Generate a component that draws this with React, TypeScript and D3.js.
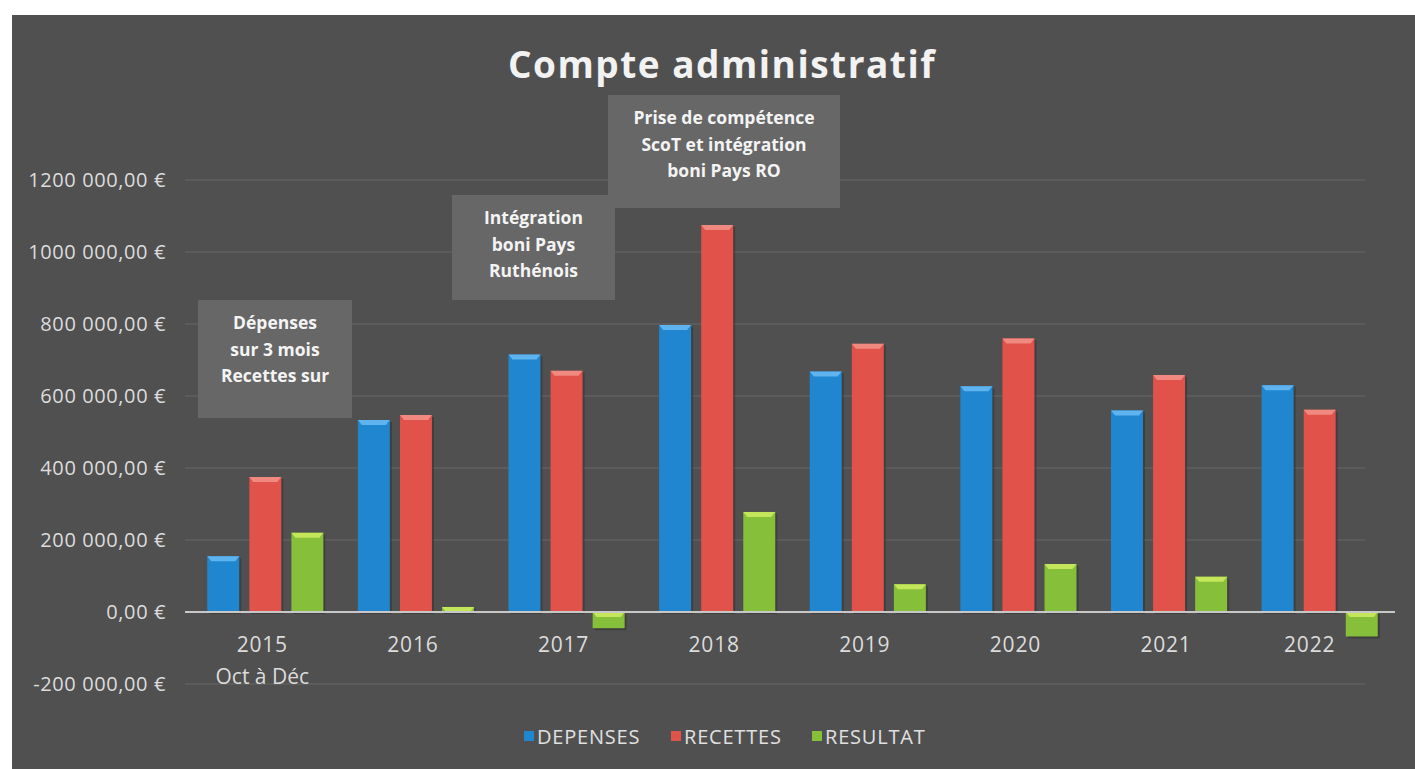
import * as React from 'react'
import * as d3 from 'd3'

const WIDTH = 1415
const HEIGHT = 769
const PLOT_LEFT = 190
const PLOT_RIGHT = 1395
const PLOT_TOP = 180
const PLOT_BOTTOM = 684

const YEARS = ['2015', '2016', '2017', '2018', '2019', '2020', '2021', '2022']
const YEAR_SUBLABELS = ['Oct à Déc', '', '', '', '', '', '', '']
const SERIES = ['DEPENSES', 'RECETTES', 'RESULTAT']
const DEPENSES = [155000, 533000, 715000, 797000, 668000, 627000, 560000, 630000]
const RECETTES = [375000, 547000, 670000, 1075000, 745000, 760000, 658000, 562000]
const RESULTAT = [220000, 14000, -45000, 278000, 77000, 133000, 98000, -68000]
const Y_TICKS = [-200000, 0, 200000, 400000, 600000, 800000, 1000000, 1200000]

// annotation boxes: text lines + year they refer to
const NOTES = [
  { lines: ['Dépenses', 'sur 3 mois', 'Recettes sur'], year: '2015' },
  { lines: ['Intégration', 'boni Pays', 'Ruthénois'], year: '2017' },
  { lines: ['Prise de compétence', 'ScoT et intégration', 'boni Pays RO'], year: '2018' }
]

const COLORS = ['#1f86cf', '#e0524a', '#86bf3a']
const HIGHLIGHTS = ['#5fb4ef', '#f08a80', '#c4e65a']
const FONT = '"Open Sans", "DejaVu Sans", sans-serif'

function formatEuro(v: number): string {
  // "1200 000,00 €" style, as in the original sheet
  const sign = v < 0 ? '-' : ''
  const abs = Math.abs(v)
  const thousands = Math.floor(abs / 1000)
  const rest = abs % 1000
  const head = thousands > 0 ? `${thousands} ${String(rest).padStart(3, '0')}` : `${rest}`
  return `${sign}${head},00 €`
}

export default function App() {
  const values = [DEPENSES, RECETTES, RESULTAT]

  const x = d3.scaleBand<string>().domain(YEARS).range([PLOT_LEFT, PLOT_RIGHT]).padding(0)
  const xInner = d3
    .scaleBand<string>()
    .domain(SERIES)
    .range([0, x.bandwidth()])
    .paddingInner(0.24)
    .paddingOuter(0.41)
  const y = d3.scaleLinear().domain([-200000, 1200000]).range([PLOT_BOTTOM, PLOT_TOP])

  // note box placement
  const noteBoxes = [
    { x0: 198, x1: 352, y0: 300, y1: 418 },
    { x0: 452, x1: 615, y0: 195, y1: 300 },
    { x0: 608, x1: 840, y0: 95, y1: 208 }
  ]

  return (
    <svg
      width={WIDTH}
      height={HEIGHT}
      style={{ position: 'absolute', left: 0, top: 0, fontFamily: FONT }}
    >
      <rect x={0} y={0} width={WIDTH} height={HEIGHT} fill="#ffffff" />
      <rect x={12} y={15} width={WIDTH - 12} height={HEIGHT - 15} fill="#505050" />

      <text
        x={722}
        y={78}
        textAnchor="middle"
        fill="#f2f2f2"
        fontSize={37}
        fontWeight="bold"
        letterSpacing={1.5}
      >
        Compte administratif
      </text>

      {/* grid */}
      {Y_TICKS.map(t => (
        <line
          key={t}
          x1={PLOT_LEFT - 5}
          x2={PLOT_RIGHT - 30}
          y1={y(t)}
          y2={y(t)}
          stroke="#666666"
          strokeWidth={1.2}
        />
      ))}
      {Y_TICKS.map(t => (
        <text
          key={'l' + t}
          x={166}
          y={y(t)}
          dy="0.35em"
          textAnchor="end"
          fill="#dcdcdc"
          fontSize={20}
          letterSpacing={0.6}
        >
          {formatEuro(t)}
        </text>
      ))}

      {/* bars */}
      {YEARS.map((yr, i) => (
        <g key={yr} transform={`translate(${x(yr)},0)`}>
          {SERIES.map((s, k) => {
            const v = values[k][i]
            const top = Math.min(y(v), y(0))
            const h = Math.max(Math.abs(y(v) - y(0)), 1.5)
            const bx = xInner(s) as number
            const bw = xInner.bandwidth()
            return (
              <g key={s}>
                <rect x={bx + 2} y={top + 2} width={bw} height={h} fill="#2e2e2e" opacity={0.5} />
                <rect x={bx} y={top} width={bw} height={h} fill={COLORS[k]} />
                <polygon
                  points={`${bx},${top} ${bx + bw},${top} ${bx + bw - 4},${top + Math.min(5, h)} ${bx + 4},${top + Math.min(5, h)}`}
                  fill={HIGHLIGHTS[k]}
                />
              </g>
            )
          })}
        </g>
      ))}

      {/* zero line */}
      <line x1={PLOT_LEFT - 5} x2={PLOT_RIGHT} y1={y(0)} y2={y(0)} stroke="#c8c8c8" strokeWidth={2} />

      {/* x labels */}
      {YEARS.map((yr, i) => (
        <g key={'x' + yr}>
          <text
            x={(x(yr) as number) + x.bandwidth() / 2 - (i === YEARS.length - 1 ? 10 : 3)}
            y={652}
            textAnchor="middle"
            fill="#dcdcdc"
            fontSize={21}
            letterSpacing={0.8}
          >
            {yr}
          </text>
          {YEAR_SUBLABELS[i] && (
            <text
              x={(x(yr) as number) + x.bandwidth() / 2 - 3}
              y={684}
              textAnchor="middle"
              fill="#dcdcdc"
              fontSize={21}
            >
              {YEAR_SUBLABELS[i]}
            </text>
          )}
        </g>
      ))}

      {/* notes */}
      {NOTES.map((n, i) => {
        const b = noteBoxes[i]
        const cx = (b.x0 + b.x1) / 2
        return (
          <g key={n.year}>
            <rect x={b.x0} y={b.y0} width={b.x1 - b.x0} height={b.y1 - b.y0} fill="#676767" />
            {n.lines.map((ln, j) => (
              <text
                key={j}
                x={cx}
                y={b.y0 + 29 + j * 26.5}
                textAnchor="middle"
                fill="#f4f4f4"
                fontSize={17.5}
                fontWeight="bold"
              >
                {ln}
              </text>
            ))}
          </g>
        )
      })}

      {/* legend */}
      {SERIES.map((s, k) => {
        const lx = [524, 671, 812][k]
        return (
          <g key={'lg' + s}>
            <rect x={lx} y={731} width={10} height={10} fill={COLORS[k]} />
            <text x={lx + 13} y={744} fill="#e0e0e0" fontSize={20} letterSpacing={0.8}>
              {s}
            </text>
          </g>
        )
      })}
    </svg>
  )
}
